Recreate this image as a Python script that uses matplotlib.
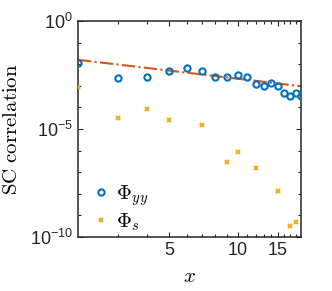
import matplotlib
matplotlib.use('Agg')
import matplotlib.pyplot as plt
import numpy as np
from matplotlib.ticker import FixedLocator, NullFormatter

plt.rcParams['mathtext.fontset'] = 'cm'
plt.rcParams['mathtext.rm'] = 'Liberation Sans'
plt.rcParams['mathtext.it'] = 'Liberation Sans:italic'
plt.rcParams['font.family'] = 'Liberation Sans'

# data
x_yy = [2, 3, 4, 5, 6, 7, 8, 9, 10, 11, 12, 13, 14, 15, 16, 17, 18, 19]
phi_yy = [1.15e-2, 2.3e-3, 2.6e-3, 5.0e-3, 6.5e-3, 4.9e-3, 2.6e-3, 2.6e-3, 3.3e-3,
          2.6e-3, 1.26e-3, 1.0e-3, 1.35e-3, 1.0e-3, 4.7e-4, 3.5e-4, 4.5e-4, 3.4e-4]
x_s = [2, 3, 4, 5, 7, 9, 10, 12, 15, 17, 18]
phi_s = [8.7e-4, 3.1e-5, 8.3e-5, 2.6e-5, 1.45e-5, 2.95e-7, 8.5e-7, 1.6e-7,
         1.3e-8, 3.1e-10, 5.1e-10]
# power-law fit a * x^b
fit_a = 0.0377
fit_b = -1.25

ax_col = '#262626'
fig = plt.figure(figsize=(3.32, 2.91), dpi=100)
ax = fig.add_axes([0.235, 0.186, 0.672, 0.742])

xf = np.array(x_yy, dtype=float)
ax.plot(xf, fit_a * xf ** fit_b, color='#D95319', linestyle='-.', linewidth=1.5, zorder=2)
ax.plot(x_yy, phi_yy, 'o', mfc='none', mec='#0072BD', ms=4.5, mew=1.5,
        label=r'$\Phi_{yy}$', zorder=3)
ax.plot(x_s, phi_s, 'x', color='#EDB120', ms=3, mew=1.5,
        label=r'$\Phi_s$', zorder=3)

ax.set_xscale('log')
ax.set_yscale('log')
ax.set_xlim(2, 19)
ax.set_ylim(1e-10, 1)

ax.xaxis.set_major_locator(FixedLocator([5, 10, 15]))
ax.set_xticklabels(['5', '10', '15'])
ax.xaxis.set_minor_locator(FixedLocator([3, 4, 6, 7, 8, 9, 11, 12, 13, 14, 16, 17, 18]))
ax.xaxis.set_minor_formatter(NullFormatter())

ax.yaxis.set_major_locator(FixedLocator([1e-10, 1e-5, 1]))
ax.set_yticklabels([r'$10^{-10}$', r'$10^{-5}$', r'$10^{0}$'])
ax.yaxis.set_minor_locator(FixedLocator([10.0 ** k for k in range(-9, 0) if k != -5]))
ax.yaxis.set_minor_formatter(NullFormatter())
for lbl in ax.get_yticklabels():
    lbl.set_math_fontfamily('custom')

ax.tick_params(which='both', direction='in', top=True, right=True,
               labelsize=13, colors=ax_col, labelcolor=ax_col)
ax.tick_params(which='major', length=3.5, width=0.8)
ax.tick_params(which='minor', length=2, width=0.8)
for s in ax.spines.values():
    s.set_linewidth(1.1)
    s.set_color(ax_col)

ax.set_xlabel(r'$x$', fontsize=15, labelpad=6)
ax.set_ylabel(r'$\mathrm{SC\ correlation}$', fontsize=15, labelpad=0)
ax.yaxis.set_label_coords(-0.255, 0.5)

ax.legend(loc='lower left', frameon=False, fontsize=15, handletextpad=0.2,
          handlelength=1.0, borderaxespad=0.0, labelspacing=0.15,
          bbox_to_anchor=(0.02, -0.02))

fig.savefig('out.png', dpi=100)
